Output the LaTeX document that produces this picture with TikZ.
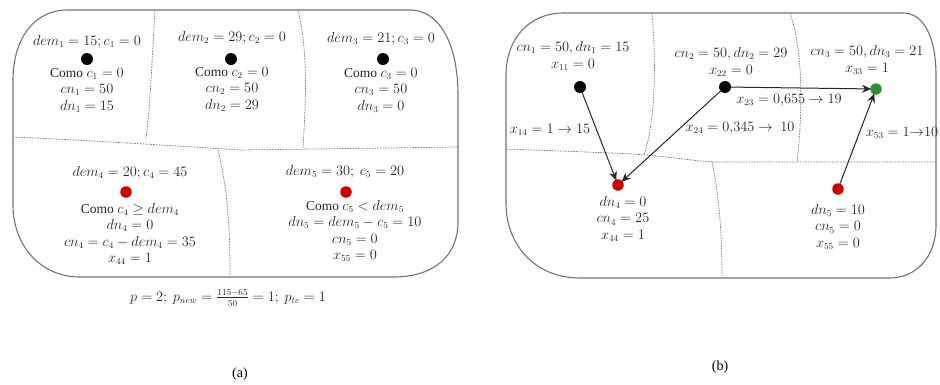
\documentclass[tikz,border=0pt]{standalone}
\usepackage{fontspec}
\setmainfont{Liberation Serif}
\usetikzlibrary{arrows.meta}
\tikzset{
  border/.style={draw=black!55, line width=1.1pt},
  divider/.style={draw=black!50, line width=0.75pt, dash pattern=on 1.6pt off 1.1pt},
  bdot/.style={circle, fill=black, inner sep=0pt, minimum size=12pt},
  rdot/.style={circle, fill=red!80!black, inner sep=0pt, minimum size=11.5pt},
  gdot/.style={circle, fill=green!45!black!80, inner sep=0pt, minimum size=11.5pt},
  lbl/.style={align=center, inner sep=0pt, text=black!85, font=\fontsize{13.5}{16.5}\selectfont},
  conn/.style={draw=black!85, line width=1pt, -{Stealth[length=9pt,width=8pt]}, shorten >=-1pt},
  captxt/.style={inner sep=0pt, font=\fontsize{14}{16}\selectfont}
}
\begin{document}
\begin{tikzpicture}[x=1pt,y=-1pt]
\useasboundingbox (0,0) rectangle (940,384);
% ---------- panel (a) ----------
\draw[border] (67,10) -- (410,10) .. controls (440,10) and (458,45) .. (458,95)
  -- (458,222) .. controls (458,255) and (435,277) .. (393,277) -- (80,277)
  .. controls (40,277) and (13,245) .. (13,205) -- (13,80)
  .. controls (13,38) and (35,10) .. (67,10) -- cycle;
\draw[divider] (155,10) .. controls (152,60) and (150,110) .. (146,138);
\draw[divider] (298,10) .. controls (308,50) and (306,100) .. (303,148);
\draw[divider] (13,137) .. controls (80,140) and (180,146) .. (240,150) -- (458,147);
\draw[divider] (218,150) .. controls (228,190) and (230,230) .. (230,277);
% node 1
\node[lbl] (a1d) at (87,42) {$dem_1 = 15; c_1 = 0$};
\node[bdot] (a1) at (87,59) {};
\node[lbl] (a1t) at (87,90) {Como $c_1 = 0$\\ $cn_1 = 50$\\ $dn_1 = 15$};
% node 2
\node[lbl] (a2d) at (232,38) {$dem_2 = 29; c_2 = 0$};
\node[bdot] (a2) at (231,59) {};
\node[lbl] (a2t) at (232,89) {Como $c_2 = 0$\\ $cn_2 = 50$\\ $dn_2 = 29$};
% node 3
\node[lbl] (a3d) at (381,39) {$dem_3 = 21; c_3 = 0$};
\node[bdot] (a3) at (383,59) {};
\node[lbl] (a3t) at (381,90) {Como $c_3 = 0$\\ $cn_3 = 50$\\ $dn_3 = 0$};
% node 4
\node[lbl] (a4d) at (130,173) {$dem_4 = 20; c_4 = 45$};
\node[rdot] (a4) at (126,192) {};
\node[lbl] (a4t) at (130,234) {Como $c_4 \geq dem_4$\\ $dn_4 = 0$\\ $cn_4 = c_4 - dem_4 = 35$\\ $x_{44} = 1$};
% node 5
\node[lbl] (a5d) at (345,172) {$dem_5 = 30;\ c_5 = 20$};
\node[rdot] (a5) at (346,192) {};
\node[lbl] (a5t) at (355,231) {Como $c_5 < dem_5$\\ $dn_5 = dem_5 - c_5 = 10$\\ $cn_5 = 0$\\ $x_{55} = 0$};
\node[lbl] (form) at (228,298) {$p = 2;\ p_{new} = \frac{115-65}{50} = 1;\ p_{te} = 1$};
\node[captxt] (capa) at (240,374) {(a)};
% ---------- panel (b) ----------
\draw[border] (563,13) -- (903,13) .. controls (925,13) and (936,40) .. (936,75)
  -- (936,225) .. controls (936,258) and (915,278) .. (890,278) -- (580,278)
  .. controls (535,278) and (506,245) .. (506,203) -- (506,75)
  .. controls (506,38) and (530,13) .. (563,13) -- cycle;
\draw[divider] (652,13) .. controls (656,60) and (656,120) .. (644,155);
\draw[divider] (790,13) .. controls (803,50) and (803,110) .. (797,163);
\draw[divider] (506,149) .. controls (560,151) and (620,153) .. (647,155) .. controls (680,158) and (700,162) .. (720,162) -- (936,162);
\draw[divider] (712,162) .. controls (720,200) and (722,240) .. (722,278);
% nodes
\node[bdot] (b1) at (580,87) {};
\node[lbl] (b1t) at (573,56) {$cn_1 = 50, dn_1 = 15$\\ $x_{11} = 0$};
\node[bdot] (b2) at (725,87) {};
\node[lbl] (b2t) at (731,62) {$cn_2 = 50, dn_2 = 29$\\ $x_{22} = 0$};
\node[gdot] (b3) at (876,89) {};
\node[lbl] (b3t) at (867,60) {$cn_3 = 50, dn_3 = 21$\\ $x_{33} = 1$};
\node[rdot] (b4) at (618,185) {};
\node[lbl] (b4t) at (623,219) {$dn_4 = 0$\\ $cn_4 = 25$\\ $x_{44} = 1$};
\node[rdot] (b5) at (838,189) {};
\node[lbl] (b5t) at (838,227) {$dn_5 = 10$\\ $cn_5 = 0$\\ $x_{55} = 0$};
% connectors
\draw[conn] (b1) -- (b4);
\draw[conn] (b2) -- (b4);
\draw[conn] (b2) -- (b3);
\draw[conn] (b5) -- (b3);
\node[lbl] (l14) at (550,130) {$x_{14} = 1 \rightarrow 15$};
\node[lbl] (l24) at (740,128) {$x_{24} = 0{,}345 \rightarrow\ 10$};
\node[lbl] (l23) at (789,100) {$x_{23} = 0{,}655 \rightarrow 19$};
\node[lbl] (l53) at (902,133) {$x_{53} = 1{\rightarrow}10$};
\node[captxt] (capb) at (720,367) {(b)};
\end{tikzpicture}
\end{document}
